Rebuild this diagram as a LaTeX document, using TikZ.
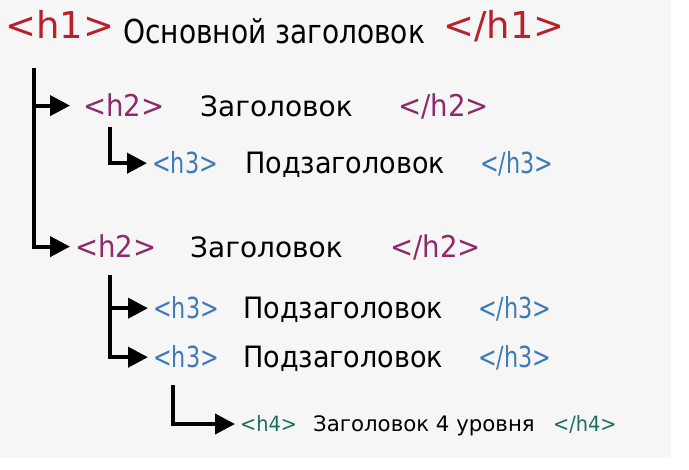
\documentclass[tikz,border=0pt]{standalone}
\usepackage{fontspec}
\setmainfont{DejaVu Sans}
\newfontfamily\narrowfont[FakeStretch=0.92]{DejaVu Sans}
\newfontfamily\slimfont[FakeStretch=0.85]{DejaVu Sans}
\newfontfamily\thinfont[FakeStretch=0.77]{DejaVu Sans}
\usepackage{tikz}
\usetikzlibrary{arrows.meta}
\definecolor{tagred}{HTML}{B8202B}
\definecolor{tagpurple}{HTML}{8C2A6A}
\definecolor{tagblue}{HTML}{3E7BB6}
\definecolor{taggreen}{HTML}{1B6E5B}
\definecolor{panel}{HTML}{F6F6F6}

\begin{document}
\begin{tikzpicture}[x=1pt, y=-1pt,
  txt/.style={anchor=base west, inner sep=0pt},
  hone/.style={txt, text=tagred, font=\fontsize{37}{44}\selectfont},
  htwo/.style={txt, text=tagpurple, font=\narrowfont\fontsize{30}{36}\selectfont},
  hthree/.style={txt, text=tagblue, font=\thinfont\fontsize{29}{35}\selectfont},
  hfour/.style={txt, text=taggreen, font=\narrowfont\fontsize{21}{25}\selectfont},
  wone/.style={txt, font=\slimfont\fontsize{33}{40}\selectfont},
  wtwo/.style={txt, font=\fontsize{28}{34}\selectfont},
  wthree/.style={txt, font=\narrowfont\fontsize{29.4}{35}\selectfont},
  wfour/.style={txt, font=\fontsize{21.3}{26}\selectfont},
  link/.style={line width=4pt, shorten >=5pt,
               -{Triangle[length=20pt,width=20pt]}}]

\useasboundingbox (0,0) rectangle (689,470);
\fill[panel] (0,0) rectangle (671,458);

% h1
\node[hone] (h1o) at (5,39) {<h1>};
\node[wone] (h1t) at (123,44) {Основной заголовок};
\node[hone] (h1c) at (443,39) {</h1>};

% h2 (first)
\node[htwo] (h2ao) at (83,117) {<h2>};
\node[wtwo] (h2at) at (200,117) {Заголовок};
\node[htwo] (h2ac) at (398,117) {</h2>};

\node[hthree] (h3ao) at (152,174) {<h3>};
\node[wthree] (h3at) at (245,174) {Подзаголовок};
\node[hthree] (h3ac) at (480,174) {</h3>};

% h2 (second)
\node[htwo] (h2bo) at (75,258) {<h2>};
\node[wtwo] (h2bt) at (190,258) {Заголовок};
\node[htwo] (h2bc) at (390,258) {</h2>};

\node[hthree] (h3bo) at (153,319) {<h3>};
\node[wthree] (h3bt) at (243,319) {Подзаголовок};
\node[hthree] (h3bc) at (478,319) {</h3>};

\node[hthree] (h3co) at (153,368) {<h3>};
\node[wthree] (h3ct) at (243,368) {Подзаголовок};
\node[hthree] (h3cc) at (478,368) {</h3>};

% h4
\node[hfour] (h4o) at (240,432) {<h4>};
\node[wfour] (h4t) at (313,432) {Заголовок 4 уровня};
\node[hfour] (h4c) at (553,432) {</h4>};

% tree
\coordinate (trunk) at (34,68);
\coordinate (twoa) at (110,127);
\coordinate (twob) at (110,275);
\coordinate (three) at (173,385);
\draw[link, shorten >=13pt] (trunk) |- (h2ao.west);
\draw[link] (trunk) |- (h2bo.west);
\draw[link] (twoa) |- (h3ao.west);
\draw[link] (twob) |- (h3bo.west);
\draw[link] (twob) |- (h3co.west);
\draw[link] (three) |- (h4o.west);
\end{tikzpicture}
\end{document}
